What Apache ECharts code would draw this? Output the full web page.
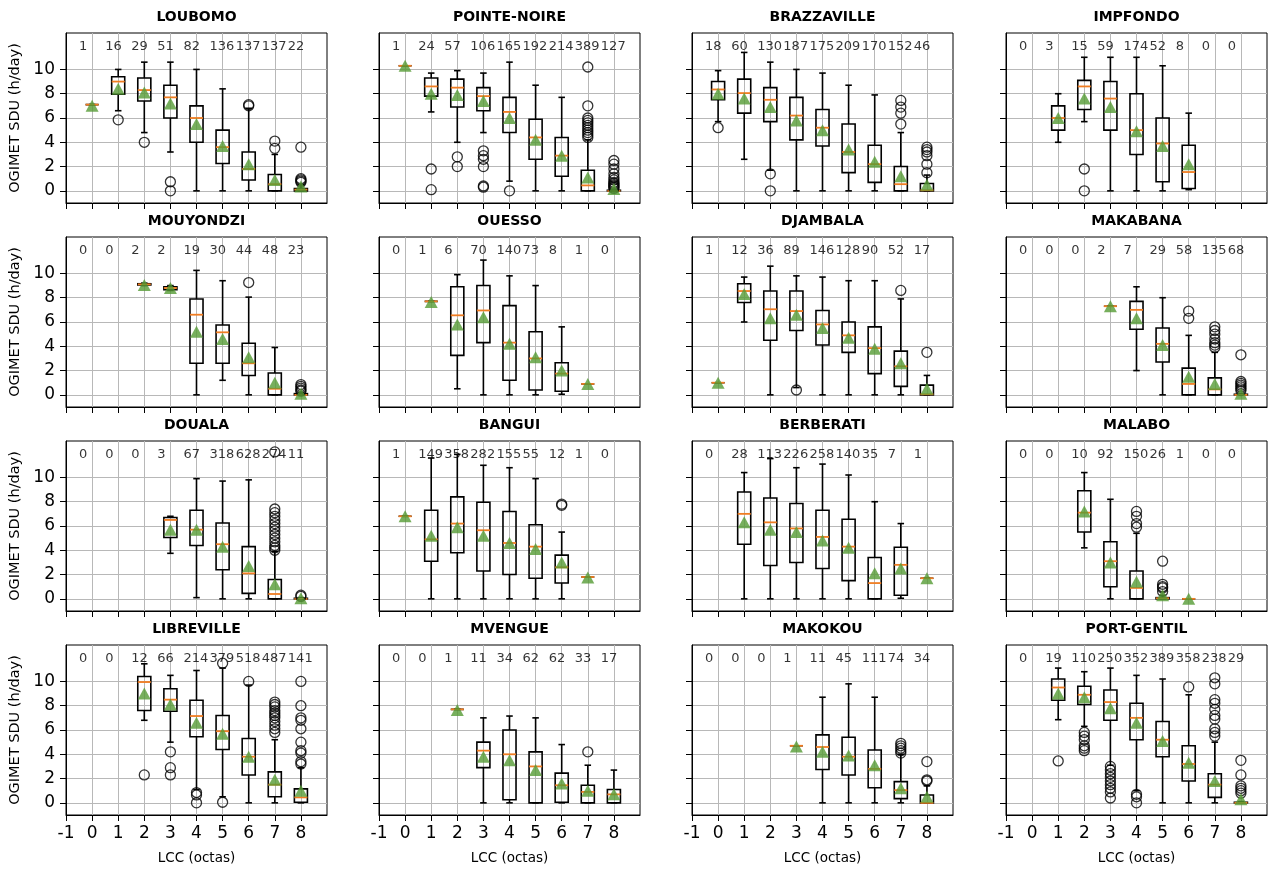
<!DOCTYPE html>
<html>
<head>
<meta charset="utf-8">
<script src="https://cdn.jsdelivr.net/npm/echarts@6.0.0/dist/echarts.min.js"></script>
<style>
  html, body { margin: 0; padding: 0; background: #fff; }
  #chart { width: 1272px; height: 870px; }
</style>
</head>
<body>
<div id="chart"></div>
<script>
const stations = ['LOUBOMO', 'POINTE-NOIRE', 'BRAZZAVILLE', 'IMPFONDO',
  'MOUYONDZI', 'OUESSO', 'DJAMBALA', 'MAKABANA',
  'DOUALA', 'BANGUI', 'BERBERATI', 'MALABO',
  'LIBREVILLE', 'MVENGUE', 'MAKOKOU', 'PORT-GENTIL']
const lcc = [0, 1, 2, 3, 4, 5, 6, 7, 8]
const xTicks = [-1, 0, 1, 2, 3, 4, 5, 6, 7, 8]
const yTicks = [0, 2, 4, 6, 8, 10]

const counts = [
  [1, 16, 29, 51, 82, 136, 137, 137, 22],
  [1, 24, 57, 106, 165, 192, 214, 389, 127],
  [18, 60, 130, 187, 175, 209, 170, 152, 46],
  [0, 3, 15, 59, 174, 52, 8, 0, 0],
  [0, 0, 2, 2, 19, 30, 44, 48, 23],
  [0, 1, 6, 70, 140, 73, 8, 1, 0],
  [1, 12, 36, 89, 146, 128, 90, 52, 17],
  [0, 0, 0, 2, 7, 29, 58, 135, 68],
  [0, 0, 0, 3, 67, 318, 628, 274, 11],
  [1, 149, 358, 282, 155, 55, 12, 1, 0],
  [0, 28, 113, 226, 258, 140, 35, 7, 1],
  [0, 0, 10, 92, 150, 26, 1, 0, 0],
  [0, 0, 12, 66, 214, 379, 518, 487, 141],
  [0, 0, 1, 11, 34, 62, 62, 33, 17],
  [0, 0, 0, 1, 11, 45, 111, 74, 34],
  [0, 19, 110, 250, 352, 389, 358, 238, 29]
]

// lower whisker end
const whiskerLow = [
  [7.1, 6.6, 4.8, 3.2, 0, 0, 0, 0, 0],
  [10.3, 6.5, 4.0, 4.8, 0.8, 0, 0, 0, 0],
  [5.7, 2.6, 1.7, 0, 0, 0, 0, 0, 0],
  [null, 4.0, 5.7, 0, 0, 0, 0.1, null, null],
  [null, null, 9.0, 8.6, 0, 1.2, 0, 0, 0],
  [null, 7.7, 0.5, 0, 0, 0, 0.05, 0.9, null],
  [1.0, 6.0, 0, 0.6, 0, 0, 0, 0, 0],
  [null, null, null, 7.3, 2.0, 0, 0, 0, 0],
  [null, null, null, 3.75, 0.1, 0, 0, 0, 0],
  [6.8, 0, 0, 0, 0, 0, 0, 1.8, null],
  [null, 0, 0, 0, 0, 0, 0, 0.05, 1.7],
  [null, null, 4.2, 0, 0, 0, 0, null, null],
  [null, null, 6.8, 5.0, 1.1, 0.5, 0, 0, 0],
  [null, null, 7.7, 0, 0, 0, 0, 0, 0],
  [null, null, null, 4.7, 0, 0, 0, 0, 0],
  [null, 6.85, 6.3, 3.1, 1.0, 0, 0, 0, 0]
]

const q1 = [
  [7.1, 7.95, 7.4, 6.0, 4.0, 2.25, 0.9, 0, 0],
  [10.3, 7.8, 6.9, 6.6, 4.8, 2.6, 1.2, 0, 0],
  [7.5, 6.4, 5.7, 4.2, 3.7, 1.5, 0.7, 0, 0],
  [null, 5.0, 6.7, 5.0, 3.0, 0.75, 0.2, null, null],
  [null, null, 9.05, 8.65, 2.6, 2.6, 1.6, 0, 0],
  [null, 7.7, 3.25, 4.3, 1.2, 0.4, 0.3, 0.9, null],
  [1.0, 7.6, 4.5, 5.3, 4.1, 3.5, 1.75, 0.7, 0],
  [null, null, null, 7.3, 5.4, 2.7, 0, 0, 0],
  [null, null, null, 5.05, 4.4, 2.4, 0.45, 0, 0],
  [6.8, 3.1, 3.8, 2.3, 2.0, 1.7, 1.3, 1.8, null],
  [null, 4.5, 2.75, 3.0, 2.5, 1.5, 0, 0.3, 1.7],
  [null, null, 5.5, 1.0, 0, 0, 0, null, null],
  [null, null, 7.6, 7.55, 5.45, 4.4, 2.3, 0.5, 0.05],
  [null, null, 7.7, 2.9, 0.25, 0, 0.05, 0, 0],
  [null, null, null, 4.7, 2.75, 2.3, 1.25, 0.35, 0],
  [null, 8.45, 8.1, 6.8, 5.2, 3.8, 1.8, 0.45, 0]
]

const median = [
  [7.1, 9.0, 8.3, 7.7, 6.0, 3.6, 1.8, 0.55, 0.1],
  [10.3, 8.6, 8.5, 7.8, 6.5, 4.4, 2.9, 0.45, 0],
  [8.35, 8.05, 7.5, 6.2, 5.2, 3.2, 2.2, 0.55, 0.05],
  [null, 6.0, 8.6, 7.6, 5.0, 3.9, 1.55, null, null],
  [null, null, 9.1, 8.8, 6.6, 5.15, 2.6, 0.5, 0],
  [null, 7.7, 6.55, 6.95, 4.3, 3.0, 1.75, 0.9, null],
  [1.0, 8.55, 7.05, 6.9, 5.8, 4.9, 3.85, 2.35, 0.05],
  [null, null, null, 7.3, 7.0, 4.2, 0.9, 0.45, 0],
  [null, null, null, 6.5, 5.7, 4.5, 2.1, 0.4, 0],
  [6.8, 4.9, 6.2, 5.65, 4.6, 4.3, 2.6, 1.8, null],
  [null, 7.0, 6.3, 5.8, 5.1, 4.3, 1.3, 2.8, 1.7],
  [null, null, 7.1, 3.1, 0.9, 0.05, 0, null, null],
  [null, null, 9.95, 8.5, 7.15, 5.9, 3.8, 1.5, 0.45],
  [null, null, 7.7, 4.3, 4.0, 3.0, 1.45, 0.9, 0.7],
  [null, null, null, 4.7, 4.6, 3.8, 2.8, 1.05, 0],
  [null, 9.5, 8.9, 8.3, 7.0, 5.2, 3.2, 1.5, 0]
]

const q3 = [
  [7.1, 9.4, 9.3, 8.7, 7.0, 5.0, 3.2, 1.35, 0.2],
  [10.3, 9.3, 9.2, 8.5, 7.7, 5.9, 4.4, 1.7, 0.05],
  [9.0, 9.2, 8.5, 7.7, 6.7, 5.5, 3.75, 2.0, 0.6],
  [null, 7.0, 9.1, 9.0, 8.0, 6.0, 3.75, null, null],
  [null, null, 9.15, 8.9, 7.9, 5.75, 4.25, 1.8, 0.1],
  [null, 7.7, 8.9, 9.0, 7.35, 5.2, 2.65, 0.9, null],
  [1.0, 9.15, 8.55, 8.55, 6.95, 6.0, 5.6, 3.6, 0.8],
  [null, null, null, 7.3, 7.7, 5.5, 2.2, 1.4, 0.05],
  [null, null, null, 6.7, 7.3, 6.25, 4.3, 1.6, 0.05],
  [6.8, 7.3, 8.4, 7.95, 7.2, 6.1, 3.6, 1.8, null],
  [null, 8.8, 8.3, 7.85, 7.3, 6.55, 3.4, 4.25, 1.7],
  [null, null, 8.9, 4.7, 2.3, 0.1, 0, null, null],
  [null, null, 10.4, 9.4, 8.45, 7.2, 5.3, 2.55, 1.15],
  [null, null, 7.7, 5.0, 6.0, 4.2, 2.45, 1.45, 1.1],
  [null, null, null, 4.7, 5.6, 5.4, 4.35, 1.75, 0.65],
  [null, 10.2, 9.6, 9.3, 8.2, 6.7, 4.7, 2.4, 0.05]
]

// upper whisker end
const whiskerHigh = [
  [7.1, 10.0, 10.6, 10.6, 10.0, 8.4, 6.8, 3.0, 0.5],
  [10.3, 9.7, 9.9, 9.7, 10.6, 8.7, 7.7, 4.2, 0.1],
  [9.9, 11.4, 10.6, 10.0, 9.7, 8.7, 7.9, 4.8, 1.3],
  [null, 8.0, 11.0, 11.0, 11.0, 10.3, 6.4, null, null],
  [null, null, 9.2, 9.0, 10.25, 9.4, 8.05, 3.9, 0.2],
  [null, 7.7, 9.9, 11.1, 9.8, 9.0, 5.6, 0.9, null],
  [1.0, 9.7, 10.6, 9.8, 9.7, 9.4, 9.4, 7.9, 1.6],
  [null, null, null, 7.3, 8.9, 8.0, 4.9, 3.5, 0.1],
  [null, null, null, 6.8, 9.9, 9.7, 9.8, 3.9, 0.1],
  [6.8, 11.6, 11.9, 11.0, 10.8, 9.9, 5.5, 1.8, null],
  [null, 10.4, 11.55, 10.8, 11.1, 10.2, 8.0, 6.2, 1.7],
  [null, null, 10.4, 8.2, 5.4, 0.3, 0, null, null],
  [null, null, 11.45, 10.5, 10.9, 11.1, 9.7, 5.2, 2.9],
  [null, null, 7.7, 7.0, 7.15, 7.0, 4.8, 3.1, 2.7],
  [null, null, null, 4.7, 8.7, 9.8, 8.7, 4.0, 1.4],
  [null, 11.1, 10.8, 11.1, 10.5, 10.2, 8.9, 5.0, 0.1]
]

const means = [
  [7.0, 8.4, 8.1, 7.2, 5.5, 3.7, 2.2, 0.9, 0.35],
  [10.3, 8.0, 7.9, 7.4, 6.0, 4.2, 2.9, 1.1, 0.15],
  [8.0, 7.6, 6.9, 5.8, 5.0, 3.4, 2.4, 1.2, 0.5],
  [null, 6.0, 7.6, 6.9, 4.9, 3.7, 2.2, null, null],
  [null, null, 9.05, 8.8, 5.2, 4.6, 3.1, 1.0, 0.1],
  [null, 7.65, 5.8, 6.4, 4.2, 3.1, 2.0, 0.9, null],
  [1.0, 8.3, 6.3, 6.6, 5.5, 4.7, 3.8, 2.6, 0.5],
  [null, null, null, 7.3, 6.3, 4.1, 1.5, 0.9, 0.1],
  [null, null, null, 5.7, 5.7, 4.3, 2.7, 1.2, 0.05],
  [6.8, 5.2, 5.9, 5.2, 4.6, 4.1, 3.0, 1.75, null],
  [null, 6.3, 5.7, 5.5, 4.8, 4.2, 2.1, 2.5, 1.7],
  [null, null, 7.2, 3.0, 1.4, 0.3, 0, null, null],
  [null, null, 9.0, 8.1, 6.6, 5.7, 3.8, 1.9, 1.0],
  [null, null, 7.65, 3.8, 3.5, 2.7, 1.6, 1.0, 0.7],
  [null, null, null, 4.65, 4.2, 3.9, 3.1, 1.2, 0.5],
  [null, 9.0, 8.7, 7.8, 6.6, 5.1, 3.3, 1.8, 0.3]
]

const outliers = [
  [[], [5.85], [4.0], [0.75, 0.0], [], [], [7.1, 7.0], [4.1, 3.5], [3.6, 1.0, 0.9, 0.8, 0.7]],
  [[], [1.8, 0.1], [2.8, 2.0], [3.3, 2.9, 2.6, 2.0, 0.4, 0.3], [0.0], [], [],
    [10.2, 7.0, 6.0, 5.8, 5.6, 5.4, 5.2, 5.0, 4.8, 4.6, 4.4],
    [2.5, 2.2, 1.8, 1.4, 1.1, 0.9, 0.7, 0.6, 0.5, 0.4, 0.3, 0.2]],
  [[5.2], [], [1.4, 0.0], [], [], [], [], [7.45, 6.9, 6.4, 5.5], [3.6, 3.4, 3.2, 2.9, 2.2, 1.5]],
  [[], [], [1.8, 0.0], [], [], [], [], [], []],
  [[], [], [], [], [], [], [9.25], [], [0.85, 0.7, 0.55, 0.4, 0.3]],
  [[], [], [], [], [], [], [], [], []],
  [[], [], [], [0.4], [], [], [], [8.6], [3.5]],
  [[], [], [], [], [], [], [6.9, 6.3], [5.6, 5.3, 5.0, 4.6, 4.3, 4.1, 3.9], [3.3, 1.1, 0.95, 0.8, 0.65, 0.5, 0.35]],
  [[], [], [], [], [], [], [],
    [12.1, 7.4, 7.1, 6.8, 6.5, 6.2, 5.9, 5.6, 5.3, 5.0, 4.7, 4.4, 4.2, 4.0], [0.3, 0.2]],
  [[], [], [], [], [], [], [7.8, 7.7], [], []],
  [[], [], [], [], [], [], [], [], []],
  [[], [], [], [], [7.2, 6.8, 6.2, 5.9], [3.1, 1.2, 1.0, 0.9, 0.6], [], [], []],
  [[], [], [2.3], [4.2, 2.9, 2.3], [0.85, 0.65, 0.0], [11.5, 0.05], [10.0],
    [8.3, 8.1, 7.9, 7.6, 7.4, 7.2, 7.0, 6.7, 6.4, 6.1, 5.8],
    [10.0, 8.0, 7.0, 6.8, 6.1, 5.0, 4.3, 4.1, 3.4, 3.2]],
  [[], [], [], [], [], [], [], [4.2], []],
  [[], [], [], [], [], [], [], [4.9, 4.7, 4.5, 4.3, 4.1], [3.4, 1.9, 1.8]],
  [[], [3.45], [5.8, 5.5, 5.2, 4.7, 4.5, 4.3], [3.0, 2.7, 2.4, 2.1, 1.8, 1.5, 1.2, 0.9, 0.4],
    [0.7, 0.5, 0.0], [], [9.55], [10.3, 9.8, 8.5, 8.2, 7.7, 7.2, 6.9, 6.1, 5.8, 5.5], [3.5, 2.3, 1.4, 1.2, 1.0, 0.8]]
]

const font = 'DejaVu Sans'
const gridLeft = [66, 379, 692, 1006]
const gridTop = [33, 237, 441, 645]
const gridW = 261
const gridH = 170

const renderBox = (params, api) => {
    const x = api.value(0)
    const lo = api.coord([x, api.value(1)])
    const b1 = api.coord([x, api.value(2)])
    const md = api.coord([x, api.value(3)])
    const b3 = api.coord([x, api.value(4)])
    const hi = api.coord([x, api.value(5)])
    const bw = api.size([0.5, 0])[0]
    const cw = bw / 2
    const cx = md[0]
    const black = { stroke: '#000', lineWidth: 1.6, fill: null }
    return {
        type: 'group',
        children: [
            { type: 'line', shape: { x1: cx, y1: b1[1], x2: cx, y2: lo[1] }, style: black },
            { type: 'line', shape: { x1: cx, y1: b3[1], x2: cx, y2: hi[1] }, style: black },
            { type: 'line', shape: { x1: cx - cw / 2, y1: lo[1], x2: cx + cw / 2, y2: lo[1] }, style: black },
            { type: 'line', shape: { x1: cx - cw / 2, y1: hi[1], x2: cx + cw / 2, y2: hi[1] }, style: black },
            { type: 'rect', shape: { x: cx - bw / 2, y: b3[1], width: bw, height: b1[1] - b3[1] }, style: black },
            { type: 'line', shape: { x1: cx - bw / 2, y1: md[1], x2: cx + bw / 2, y2: md[1] },
              style: { stroke: '#f07d22', lineWidth: 1.8 } }
        ]
    }
}

const grids = [], xAxes = [], yAxes = [], titles = [], series = []

stations.forEach((name, k) => {
    const col = k % 4
    const row = Math.floor(k / 4)
    grids.push({
        left: gridLeft[col], top: gridTop[row], width: gridW, height: gridH,
        show: true, borderColor: '#000', borderWidth: 1, backgroundColor: 'transparent'
    })
    titles.push({
        text: name, left: gridLeft[col] + gridW / 2, top: gridTop[row] - 23,
        textAlign: 'center', padding: 0,
        textStyle: { fontFamily: font, fontSize: 14, fontWeight: 'bold', color: '#000' }
    })
    xAxes.push({
        gridIndex: k, type: 'value', min: -1, max: 9, interval: 1,
        axisLine: { show: true, onZero: false, lineStyle: { color: '#000', width: 1 } },
        axisTick: { show: true, length: 6, customValues: xTicks, lineStyle: { color: '#000', width: 1 } },
        axisLabel: { show: row === 3, customValues: xTicks, fontFamily: font, fontSize: 17, color: '#000', margin: 10 },
        splitLine: { show: true, lineStyle: { color: '#b8b8b8', width: 1 } },
        name: row === 3 ? 'LCC (octas)' : '',
        nameLocation: 'middle', nameGap: 36,
        nameTextStyle: { fontFamily: font, fontSize: 13.5, color: '#000' }
    })
    yAxes.push({
        gridIndex: k, type: 'value', min: -1, max: 13,
        axisLine: { show: true, onZero: false, lineStyle: { color: '#000', width: 1 } },
        axisTick: { show: true, length: 6, customValues: yTicks, lineStyle: { color: '#000', width: 1 } },
        axisLabel: { show: col === 0, customValues: yTicks, fontFamily: font, fontSize: 17, color: '#000', margin: 11 },
        splitLine: { show: true, lineStyle: { color: '#b8b8b8', width: 1 } },
        name: col === 0 ? 'OGIMET SDU (h/day)' : '',
        nameLocation: 'middle', nameRotate: 90, nameGap: 43,
        nameTextStyle: { fontFamily: font, fontSize: 14.5, color: '#000' }
    })

    const boxData = [], meanData = [], outData = [], countData = []
    lcc.forEach((c, i) => {
        countData.push([c - 0.5, 11.85, counts[k][i]])
        if (median[k][i] === null) return
        boxData.push([c, whiskerLow[k][i], q1[k][i], median[k][i], q3[k][i], whiskerHigh[k][i]])
        meanData.push([c, means[k][i]])
        outliers[k][i].forEach(v => outData.push([c, v]))
    })

    series.push({
        type: 'custom', xAxisIndex: k, yAxisIndex: k, silent: true, z: 3,
        renderItem: renderBox, encode: { x: 0, y: [1, 2, 3, 4, 5] }, data: boxData
    })
    series.push({
        type: 'scatter', xAxisIndex: k, yAxisIndex: k, silent: true, z: 4,
        symbol: 'circle', symbolSize: 10,
        itemStyle: { color: 'rgba(0,0,0,0)', borderColor: '#000', borderWidth: 1.3 },
        data: outData
    })
    series.push({
        type: 'scatter', xAxisIndex: k, yAxisIndex: k, silent: true, z: 5,
        symbol: 'triangle', symbolSize: [13, 12],
        itemStyle: { color: '#559b34' },
        data: meanData
    })
    series.push({
        type: 'scatter', xAxisIndex: k, yAxisIndex: k, silent: true, z: 6,
        symbolSize: 0,
        label: {
            show: true, position: 'right', distance: 0,
            formatter: p => p.value[2],
            fontFamily: font, fontSize: 13, color: '#000'
        },
        data: countData
    })
})

const chart = echarts.init(document.getElementById('chart'))
chart.setOption({
    animation: false,
    backgroundColor: '#fff',
    textStyle: { fontFamily: font },
    title: titles,
    grid: grids,
    xAxis: xAxes,
    yAxis: yAxes,
    series: series
})
</script>
</body>
</html>
